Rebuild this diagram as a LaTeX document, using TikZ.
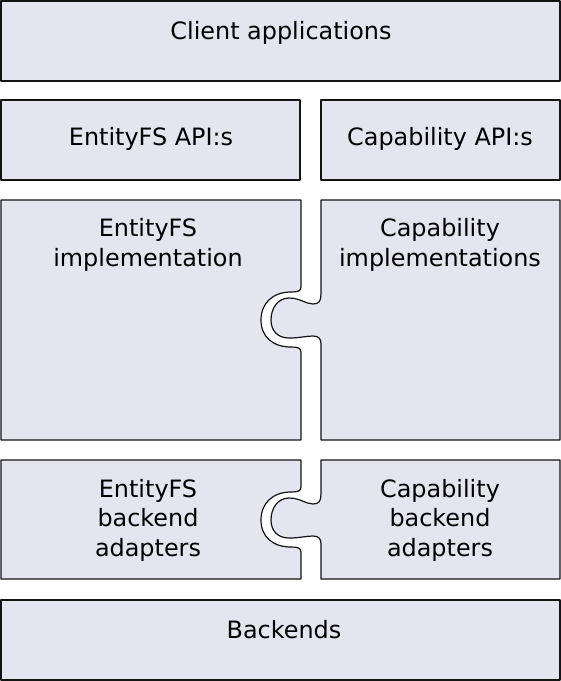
\documentclass[tikz,border=0pt]{standalone}
\usepackage{fontspec}
\setmainfont{DejaVu Sans}
\definecolor{boxfill}{RGB}{229,229,240}
\definecolor{boxline}{RGB}{20,20,20}
\tikzset{
  piece/.style={fill=boxfill, draw=boxline, line width=1.2pt, line join=round},
  label/.style={font=\fontsize{23.9}{29.5}\selectfont, align=center, anchor=base, inner sep=0pt, text=black}
}
\newcommand\leftsocket[1]{%
  -- (301,#1-33) .. controls (301,#1-29) and (298,#1-28) .. (291,#1-28)
  .. controls (273,#1-28) and (261,#1-17) .. (261,#1)
  .. controls (261,#1+17) and (273,#1+27) .. (291,#1+27)
  .. controls (298,#1+27) and (301,#1+28) .. (301,#1+32)}
\newcommand\rightknob[1]{%
  -- (321,#1+24) .. controls (321,#1+19) and (319,#1+16) .. (313,#1+16)
  .. controls (306,#1+16) and (300,#1+18) .. (289,#1+18)
  .. controls (278,#1+18) and (271,#1+11) .. (271,#1)
  .. controls (271,#1-12) and (278,#1-22) .. (289,#1-22)
  .. controls (300,#1-22) and (306,#1-16) .. (313,#1-16)
  .. controls (319,#1-16) and (321,#1-19) .. (321,#1-26)}
\begin{document}
\begin{tikzpicture}[x=1pt,y=-1pt]
\useasboundingbox (0,0) rectangle (561,681);
% boxes
\draw[piece] (1,1) rectangle (560,81);
\draw[piece] (1,100) rectangle (300,180);
\draw[piece] (321,100) rectangle (560,180);
\draw[piece] (1,200) -- (301,200) \leftsocket{320} -- (301,440) -- (1,440) -- cycle;
\draw[piece] (321,200) -- (560,200) -- (560,440) -- (321,440) \rightknob{320} -- cycle;
\draw[piece] (1,460) -- (301,460) \leftsocket{520} -- (301,579) -- (1,579) -- cycle;
\draw[piece] (321,460) -- (560,460) -- (560,579) -- (321,579) \rightknob{520} -- cycle;
\draw[piece] (1,600) rectangle (560,680);
% texts (base anchor = baseline of the last line)
\node[label] (client) at (281,39) {Client applications};
\node[label] (entapi) at (151,145) {EntityFS API:s};
\node[label] (capapi) at (440,145) {Capability API:s};
\node[label] (entimpl) at (148,266) {EntityFS\\implementation};
\node[label] (capimpl) at (440,266) {Capability\\implementations};
\node[label] (entadapt) at (148,556) {EntityFS\\backend\\adapters};
\node[label] (capadapt) at (440,556) {Capability\\backend\\adapters};
\node[label] (backends) at (284,638) {Backends};
\end{tikzpicture}
\end{document}
